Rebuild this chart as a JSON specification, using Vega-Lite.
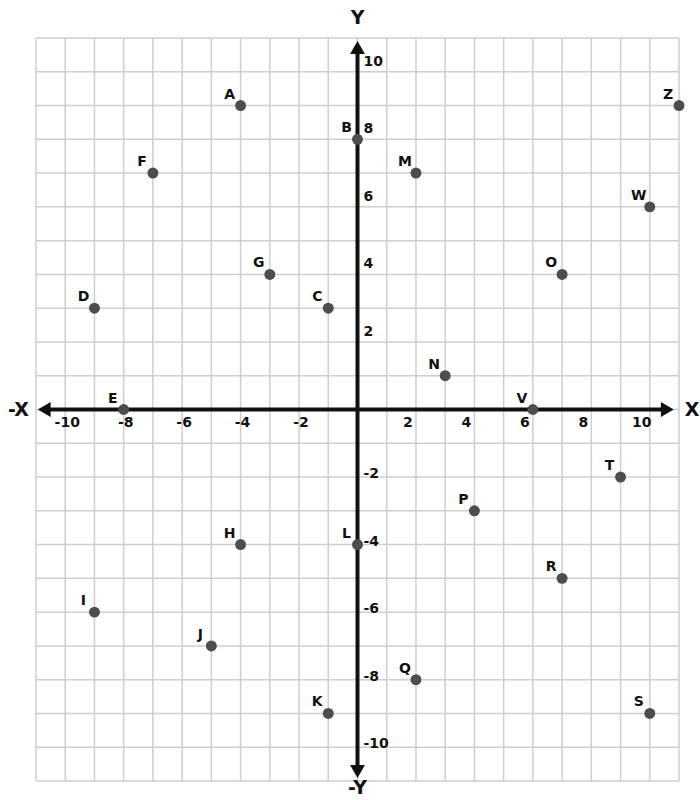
{
  "$schema": "https://vega.github.io/schema/vega-lite/v6.json",
  "width": 643,
  "height": 743,
  "autosize": "none",
  "padding": {"left": 36, "top": 38, "right": 21, "bottom": 19},
  "background": "white",
  "config": {"view": {"stroke": null}, "text": {"font": "DejaVu Sans", "fontWeight": "bold", "color": "#111"}},
  "datasets": {
    "grid": [
      {"g": -11}, {"g": -10}, {"g": -9}, {"g": -8}, {"g": -7}, {"g": -6}, {"g": -5}, {"g": -4}, {"g": -3}, {"g": -2}, {"g": -1}, {"g": 0},
      {"g": 1}, {"g": 2}, {"g": 3}, {"g": 4}, {"g": 5}, {"g": 6}, {"g": 7}, {"g": 8}, {"g": 9}, {"g": 10}, {"g": 11}
    ],
    "points": [
      {"label": "A", "x": -4, "y": 9},
      {"label": "B", "x": 0, "y": 8},
      {"label": "C", "x": -1, "y": 3},
      {"label": "D", "x": -9, "y": 3},
      {"label": "E", "x": -8, "y": 0},
      {"label": "F", "x": -7, "y": 7},
      {"label": "G", "x": -3, "y": 4},
      {"label": "H", "x": -4, "y": -4},
      {"label": "I", "x": -9, "y": -6},
      {"label": "J", "x": -5, "y": -7},
      {"label": "K", "x": -1, "y": -9},
      {"label": "L", "x": 0, "y": -4},
      {"label": "M", "x": 2, "y": 7},
      {"label": "N", "x": 3, "y": 1},
      {"label": "O", "x": 7, "y": 4},
      {"label": "P", "x": 4, "y": -3},
      {"label": "Q", "x": 2, "y": -8},
      {"label": "R", "x": 7, "y": -5},
      {"label": "S", "x": 10, "y": -9},
      {"label": "T", "x": 9, "y": -2},
      {"label": "V", "x": 6, "y": 0},
      {"label": "W", "x": 10, "y": 6},
      {"label": "Z", "x": 11, "y": 9}
    ],
    "axes": [
      {"x": -10.75, "x2": 10.65, "y": 0, "y2": 0},
      {"x": 0, "x2": 0, "y": -10.75, "y2": 10.75}
    ],
    "arrows": [
      {"end": "right", "x": 10.6, "y": 0},
      {"end": "left", "x": -10.72, "y": 0},
      {"end": "up", "x": 0, "y": 10.72},
      {"end": "down", "x": 0, "y": -10.72}
    ],
    "xticks": [
      {"v": -10, "t": "-10"}, {"v": -8, "t": "-8"}, {"v": -6, "t": "-6"}, {"v": -4, "t": "-4"}, {"v": -2, "t": "-2"},
      {"v": 2, "t": "2"}, {"v": 4, "t": "4"}, {"v": 6, "t": "6"}, {"v": 8, "t": "8"}, {"v": 10, "t": "10"}
    ],
    "yticks": [
      {"v": -10, "t": "-10"}, {"v": -8, "t": "-8"}, {"v": -6, "t": "-6"}, {"v": -4, "t": "-4"}, {"v": -2, "t": "-2"},
      {"v": 2, "t": "2"}, {"v": 4, "t": "4"}, {"v": 6, "t": "6"}, {"v": 8, "t": "8"}, {"v": 10, "t": "10"}
    ],
    "names": [
      {"t": "X", "x": 11.45, "y": 0},
      {"t": "-X", "x": -11.6, "y": 0},
      {"t": "Y", "x": 0, "y": 11.6},
      {"t": "-Y", "x": 0, "y": -11.2}
    ]
  },
  "layer": [
    {
      "data": {"name": "grid"},
      "mark": {"type": "rule", "color": "#cecece", "strokeWidth": 1.5},
      "encoding": {
        "x": {"field": "g", "type": "quantitative", "scale": {"domain": [-11, 11], "nice": false, "zero": false}, "axis": null}
      }
    },
    {
      "data": {"name": "grid"},
      "mark": {"type": "rule", "color": "#cecece", "strokeWidth": 1.5},
      "encoding": {
        "y": {"field": "g", "type": "quantitative", "scale": {"domain": [-11, 11], "nice": false, "zero": false}, "axis": null}
      }
    },
    {
      "data": {"name": "axes"},
      "mark": {"type": "rule", "color": "#111", "strokeWidth": 4},
      "encoding": {
        "x": {"field": "x", "type": "quantitative"},
        "x2": {"field": "x2"},
        "y": {"field": "y", "type": "quantitative"},
        "y2": {"field": "y2"}
      }
    },
    {
      "data": {"name": "arrows"},
      "transform": [{"filter": "datum.end === 'right'"}],
      "mark": {"type": "point", "shape": "triangle-right", "filled": true, "color": "#111", "opacity": 1, "size": 220},
      "encoding": {"x": {"field": "x", "type": "quantitative"}, "y": {"field": "y", "type": "quantitative"}}
    },
    {
      "data": {"name": "arrows"},
      "transform": [{"filter": "datum.end === 'left'"}],
      "mark": {"type": "point", "shape": "triangle-left", "filled": true, "color": "#111", "opacity": 1, "size": 220},
      "encoding": {"x": {"field": "x", "type": "quantitative"}, "y": {"field": "y", "type": "quantitative"}}
    },
    {
      "data": {"name": "arrows"},
      "transform": [{"filter": "datum.end === 'up'"}],
      "mark": {"type": "point", "shape": "triangle-up", "filled": true, "color": "#111", "opacity": 1, "size": 220},
      "encoding": {"x": {"field": "x", "type": "quantitative"}, "y": {"field": "y", "type": "quantitative"}}
    },
    {
      "data": {"name": "arrows"},
      "transform": [{"filter": "datum.end === 'down'"}],
      "mark": {"type": "point", "shape": "triangle-down", "filled": true, "color": "#111", "opacity": 1, "size": 220},
      "encoding": {"x": {"field": "x", "type": "quantitative"}, "y": {"field": "y", "type": "quantitative"}}
    },
    {
      "data": {"name": "points"},
      "mark": {"type": "circle", "color": "#4d4d4d", "opacity": 1, "size": 120},
      "encoding": {"x": {"field": "x", "type": "quantitative"}, "y": {"field": "y", "type": "quantitative"}}
    },
    {
      "data": {"name": "points"},
      "mark": {"type": "text", "fontSize": 14, "dx": -11, "dy": -11, "align": "center", "baseline": "middle"},
      "encoding": {"x": {"field": "x", "type": "quantitative"}, "y": {"field": "y", "type": "quantitative"}, "text": {"field": "label"}}
    },
    {
      "data": {"name": "xticks"},
      "transform": [{"filter": "datum.v < 0"}],
      "mark": {"type": "text", "fontSize": 14, "dx": 2, "dy": 13, "align": "center", "baseline": "middle"},
      "encoding": {"x": {"field": "v", "type": "quantitative"}, "y": {"datum": 0, "type": "quantitative"}, "text": {"field": "t"}}
    },
    {
      "data": {"name": "xticks"},
      "transform": [{"filter": "datum.v > 0"}],
      "mark": {"type": "text", "fontSize": 14, "dx": -8, "dy": 13, "align": "center", "baseline": "middle"},
      "encoding": {"x": {"field": "v", "type": "quantitative"}, "y": {"datum": 0, "type": "quantitative"}, "text": {"field": "t"}}
    },
    {
      "data": {"name": "yticks"},
      "transform": [{"filter": "datum.v > 0"}],
      "mark": {"type": "text", "fontSize": 14, "dx": 6, "dy": -10, "align": "left", "baseline": "middle"},
      "encoding": {"y": {"field": "v", "type": "quantitative"}, "x": {"datum": 0, "type": "quantitative"}, "text": {"field": "t"}}
    },
    {
      "data": {"name": "yticks"},
      "transform": [{"filter": "datum.v < 0"}],
      "mark": {"type": "text", "fontSize": 14, "dx": 6, "dy": -3, "align": "left", "baseline": "middle"},
      "encoding": {"y": {"field": "v", "type": "quantitative"}, "x": {"datum": 0, "type": "quantitative"}, "text": {"field": "t"}}
    },
    {
      "data": {"name": "names"},
      "mark": {"type": "text", "fontSize": 19, "align": "center", "baseline": "middle"},
      "encoding": {"x": {"field": "x", "type": "quantitative"}, "y": {"field": "y", "type": "quantitative"}, "text": {"field": "t"}}
    }
  ]
}
